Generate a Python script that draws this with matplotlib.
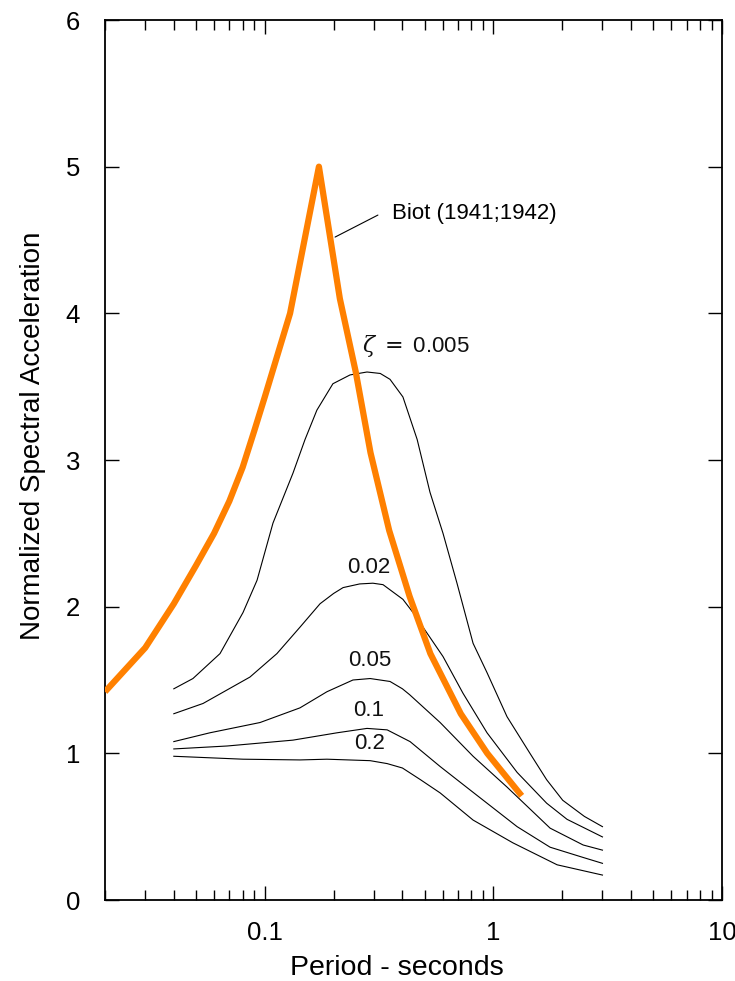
import matplotlib
matplotlib.use("Agg")
import matplotlib.pyplot as plt
from matplotlib.ticker import LogLocator, FixedLocator, NullFormatter, FixedFormatter

plt.rcParams['font.family'] = ['Liberation Sans', 'DejaVu Sans']
plt.rcParams['mathtext.fontset'] = 'dejavuserif'

# Biot (1941;1942) spectrum
biot_T = [0.02, 0.03, 0.04, 0.05, 0.06, 0.07, 0.08, 0.09, 0.10, 0.129, 0.1725,
          0.213, 0.25, 0.29, 0.35, 0.43, 0.53, 0.72, 0.94, 1.33]
biot_A = [1.42, 1.72, 2.02, 2.28, 2.50, 2.72, 2.95, 3.20, 3.43, 4.00, 5.00,
          4.10, 3.60, 3.05, 2.52, 2.07, 1.68, 1.27, 1.00, 0.71]

# Damped spectra
z005_T = [0.04, 0.0485, 0.0637, 0.0803, 0.0925, 0.1086, 0.1328, 0.150, 0.169, 0.1986,
          0.236, 0.28, 0.32, 0.353, 0.402, 0.464, 0.528, 0.602, 0.693, 0.815, 0.938,
          1.147, 1.445, 1.71, 2.01, 2.5, 3.0]
z005_A = [1.44, 1.51, 1.68, 1.96, 2.18, 2.57, 2.91, 3.14, 3.34, 3.52,
          3.58, 3.60, 3.59, 3.55, 3.43, 3.14, 2.78, 2.50, 2.16, 1.75, 1.55,
          1.25, 1.00, 0.82, 0.68, 0.57, 0.50]

z02_T = [0.04, 0.0537, 0.0861, 0.113, 0.1425, 0.1745, 0.20, 0.22, 0.26, 0.297, 0.329, 0.402,
         0.445, 0.602, 0.736, 0.938, 1.27, 1.71, 2.10, 3.0]
z02_A = [1.27, 1.34, 1.52, 1.68, 1.86, 2.02, 2.09, 2.13, 2.155, 2.16, 2.15, 2.05,
         1.96, 1.66, 1.41, 1.14, 0.87, 0.66, 0.55, 0.43]

z05_T = [0.04, 0.0575, 0.0953, 0.1425, 0.187, 0.243, 0.289, 0.353, 0.40, 0.43,
         0.585, 0.815, 1.147, 1.77, 2.47, 3.0]
z05_A = [1.08, 1.14, 1.21, 1.31, 1.42, 1.50, 1.51, 1.49, 1.44, 1.40,
         1.21, 0.98, 0.77, 0.49, 0.375, 0.34]

z1_T = [0.04, 0.0684, 0.1328, 0.207, 0.28, 0.343, 0.432, 0.585, 0.791, 1.27, 1.77, 2.47, 3.0]
z1_A = [1.03, 1.05, 1.09, 1.14, 1.17, 1.16, 1.08, 0.91, 0.75, 0.50, 0.36, 0.29, 0.25]

z2_T = [0.04, 0.0803, 0.1425, 0.187, 0.289, 0.343, 0.40, 0.48, 0.585, 0.815, 1.216, 1.90, 3.0]
z2_A = [0.98, 0.96, 0.955, 0.96, 0.95, 0.93, 0.90, 0.82, 0.73, 0.545, 0.39, 0.24, 0.17]

damped = [(z005_T, z005_A), (z02_T, z02_A), (z05_T, z05_A), (z1_T, z1_A), (z2_T, z2_A)]

# curve labels (text, T, A, ha)
labels = [(r'$\zeta\;{=}\;$0.005', 0.266, 3.78, 'left'),
          ('0.02', 0.286, 2.27, 'center'),
          ('0.05', 0.289, 1.63, 'center'),
          ('0.1', 0.286, 1.29, 'center'),
          ('0.2', 0.288, 1.07, 'center')]

fig = plt.figure(figsize=(7.35, 9.81), dpi=100)
ax = fig.add_axes([105/735, 1-900/981, (722-105)/735, (900-20)/981])

for T, A in damped:
    ax.plot(T, A, color='black', lw=0.8)
ax.plot(biot_T, biot_A, color='#FF8000', lw=4.5, solid_joinstyle='round',
        solid_capstyle='butt', zorder=3)

for txt, T, A, ha in labels:
    ax.text(T, A, txt, ha=ha, va='center', fontsize=16, color='#111111')

ax.annotate('', xy=(0.203, 4.52), xytext=(0.3125, 4.67),
            arrowprops=dict(arrowstyle='-', color='black', lw=0.8,
                            shrinkA=0, shrinkB=0))
ax.text(0.3605, 4.68, 'Biot (1941;1942)', ha='left', va='center', fontsize=16)

ax.set_xscale('log')
ax.set_xlim(0.02, 10)
ax.set_ylim(0, 6)
ax.xaxis.set_major_locator(FixedLocator([0.1, 1, 10]))
ax.xaxis.set_major_formatter(FixedFormatter(['0.1', '1', '10']))
ax.xaxis.set_minor_locator(LogLocator(base=10, subs=range(2, 10)))
ax.xaxis.set_minor_formatter(NullFormatter())
ax.set_yticks([0, 1, 2, 3, 4, 5, 6])
ax.set_yticklabels(['0', '1', '2', '3', '4', '5', '6'])

ax.tick_params(which='both', direction='in', top=True, right=True, width=1.0)
ax.tick_params(which='major', length=10)
ax.tick_params(which='minor', length=7)
ax.tick_params(axis='x', which='major', labelsize=18.5, pad=15)
ax.tick_params(axis='y', which='major', labelsize=18.5, pad=18)
for s in ax.spines.values():
    s.set_linewidth(1.3)

ax.set_xlabel('Period - seconds', fontsize=20.5, labelpad=7.5)
ax.set_ylabel('Normalized Spectral Acceleration', fontsize=20, labelpad=14)
ax.xaxis.label.set_x(0.473)
ax.yaxis.label.set_y(0.527)

fig.savefig('out.png', dpi=100)
